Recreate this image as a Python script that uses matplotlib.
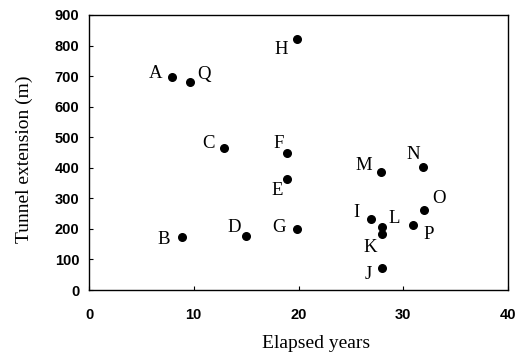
import matplotlib
matplotlib.use("Agg")
import matplotlib.pyplot as plt

# tunnel name, elapsed years, extension (m)
names = ["A", "B", "C", "D", "E", "F", "G", "H", "I", "J", "K", "L", "M", "N", "O", "P", "Q"]
years = [7.9, 8.9, 12.9, 15.0, 18.9, 18.9, 19.9, 19.9, 26.9, 28.0, 28.0, 28.0, 27.9, 31.9, 32.0, 30.9, 9.6]
extension = [698, 173, 464, 177, 362, 449, 200, 821, 231, 73, 182, 205, 385, 403, 262, 213, 680]

xticks = [0, 10, 20, 30, 40]
yticks = [0, 100, 200, 300, 400, 500, 600, 700, 800, 900]

# label offsets in pixels (dx, dy) from each point
label_off = {
    "A": (-16, 3), "B": (-19, -2), "C": (-16, 5), "D": (-12, 8), "E": (-10, -11),
    "F": (-8, 9), "G": (-18, 1), "H": (-16, -10), "I": (-14, 7), "J": (-14, -7),
    "K": (-12, -13), "L": (12, 9), "M": (-17, 7), "N": (-10, 12), "O": (15, 11),
    "P": (16, -10), "Q": (14, 8),
}

serif = "Liberation Serif"
sans = "Liberation Sans"

fig = plt.figure(figsize=(5.17, 3.56), dpi=100)
ax = fig.add_axes([89 / 517, 66 / 356, 419 / 517, 275 / 356])

ax.scatter(years, extension, s=30, color="black", zorder=3)
for n, x, y in zip(names, years, extension):
    dx, dy = label_off[n]
    ax.annotate(n, (x, y), xytext=(dx, dy), textcoords="offset pixels",
                ha="center", va="center", fontsize=13.5, family=serif)

ax.set_xlim(0, 40)
ax.set_ylim(0, 900)
ax.set_xticks(xticks)
ax.set_yticks(yticks)
ax.tick_params(direction="in", length=3, width=0.8)
ax.tick_params(axis="x", pad=13)
ax.tick_params(axis="y", pad=7)
for lab in ax.get_xticklabels() + ax.get_yticklabels():
    lab.set_fontfamily(sans)
    lab.set_fontweight("bold")
    lab.set_fontsize(10.5)
for s in ax.spines.values():
    s.set_linewidth(1.0)

ax.set_xlabel("Elapsed years", family=serif, fontsize=14)
ax.set_ylabel("Tunnel extension (m)", family=serif, fontsize=14)
ax.xaxis.set_label_coords(0.543, -0.165)
ax.yaxis.set_label_coords(-0.134, 0.476)

fig.savefig("out.png", dpi=100)
